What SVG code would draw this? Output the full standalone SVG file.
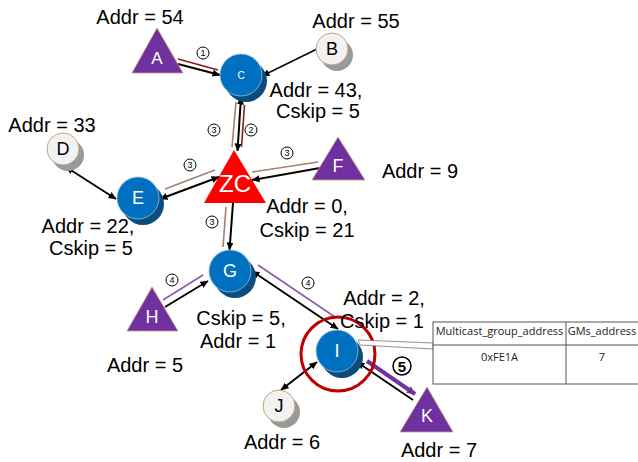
<svg xmlns="http://www.w3.org/2000/svg" width="638" height="462" viewBox="0 0 638 462">
<defs>
<marker id="ah" markerUnits="userSpaceOnUse" markerWidth="8" markerHeight="7" refX="7.5" refY="3.5" orient="auto-start-reverse"><path d="M0,0 L8,3.5 L0,7 z" fill="#000"/></marker>
<marker id="ahp" markerUnits="userSpaceOnUse" markerWidth="9" markerHeight="8" refX="8" refY="4" orient="auto"><path d="M0,0 L9,4 L0,8 z" fill="#7030a0"/></marker>
</defs>
<style>
.t{font-family:"Liberation Sans",Arial,sans-serif;font-size:20px;fill:#000;text-anchor:middle}
.nw{font-family:"Liberation Sans",Arial,sans-serif;font-size:18px;fill:#fff;text-anchor:middle}
.nb{font-family:"Liberation Sans",Arial,sans-serif;font-size:18px;fill:#000;text-anchor:middle}
.blue{fill:#0070c0;stroke:#9dbbd8;stroke-width:0.8}
.bsh{fill:#0b4c7e}
.light{fill:#f2f2f2;stroke:#c6a27c;stroke-width:1}
.lsh{fill:#9a9a9a}
.purple{fill:#7030a0;stroke:#c6a27c;stroke-width:0.8}
.bl{stroke:#000;stroke-width:2;fill:none}
.rd{stroke:#8b1a1a;stroke-width:1.6;fill:none}
.br{stroke:#a57f70;stroke-width:1.6;fill:none}
.pu{stroke:#8a5aa8;stroke-width:1.6;fill:none}
.cn{fill:#fff;stroke:#000;stroke-width:1}
.ct{font-family:"Liberation Sans",Arial,sans-serif;font-size:9px;fill:#000;text-anchor:middle}
.tb{font-family:"Open Sans","Liberation Sans",sans-serif;font-size:11px;fill:#222;text-anchor:middle}
</style>

<g id="connectors">
<line class="rd" x1="178" y1="59" x2="218" y2="70"/>
<line class="bl" x1="178" y1="64" x2="220" y2="75" marker-end="url(#ah)"/>
<line class="bl" x1="317" y1="49" x2="262" y2="76" style="stroke-width:1.4" marker-end="url(#ah)"/>
<line class="br" x1="236" y1="102" x2="232" y2="147"/>
<line class="rd" x1="244.5" y1="105" x2="241.5" y2="147"/>
<line class="bl" x1="241" y1="97" x2="237.5" y2="151" marker-end="url(#ah)" marker-start="url(#ah)"/>
<line class="br" x1="318" y1="162" x2="252" y2="172"/>
<line class="bl" x1="320" y1="168" x2="252" y2="180" marker-end="url(#ah)"/>
<line class="br" x1="215" y1="170" x2="165" y2="189"/>
<line class="bl" x1="219" y1="177" x2="160" y2="199" marker-end="url(#ah)" marker-start="url(#ah)"/>
<line class="bl" x1="116" y1="199" x2="66" y2="167" marker-end="url(#ah)" marker-start="url(#ah)"/>
<line class="br" x1="226" y1="207" x2="223" y2="247"/>
<line class="bl" x1="233" y1="203" x2="229.5" y2="250" marker-end="url(#ah)"/>
<line class="pu" x1="163" y1="300" x2="203" y2="275"/>
<line class="bl" x1="165" y1="307" x2="208" y2="281" marker-end="url(#ah)"/>
<line class="pu" x1="258" y1="265" x2="335" y2="317"/>
<line class="bl" x1="252" y1="271" x2="338" y2="329" marker-end="url(#ah)" marker-start="url(#ah)"/>
<line class="bl" x1="317" y1="362" x2="281" y2="390" marker-end="url(#ah)" marker-start="url(#ah)"/>
<line class="bl" x1="413" y1="400" x2="357" y2="362" marker-end="url(#ah)"/>
<line x1="367" y1="361" x2="415" y2="394" stroke="#7030a0" stroke-width="4" marker-end="url(#ahp)"/>
<g id="seq-labels">
<circle class="cn" cx="203" cy="53" r="6"/><text class="ct" x="203" y="56.3">1</text>
<circle class="cn" cx="214" cy="130" r="6"/><text class="ct" x="214" y="133.3">3</text>
<circle class="cn" cx="251" cy="130" r="6"/><text class="ct" x="251" y="133.3">2</text>
<circle class="cn" cx="190" cy="165" r="6"/><text class="ct" x="190" y="168.3">3</text>
<circle class="cn" cx="287" cy="153" r="6"/><text class="ct" x="287" y="156.3">3</text>
<circle class="cn" cx="212" cy="222" r="6"/><text class="ct" x="212" y="225.3">3</text>
<circle class="cn" cx="172" cy="280" r="6"/><text class="ct" x="172" y="283.3">4</text>
<circle class="cn" cx="308" cy="283" r="6"/><text class="ct" x="308" y="286.3">4</text>
<circle class="cn" cx="402" cy="366" r="9" style="stroke-width:1.5"/><text class="ct" x="402" y="371.5" style="font-size:15px;font-weight:bold">5</text>
</g>
</g>

<g id="ring"><circle cx="338" cy="354" r="37" fill="none" stroke="#c00000" stroke-width="3"/></g>

<g id="node-A">
<polygon class="purple" points="157,28 132,73 183,73"/>
<text class="nw" x="157" y="64" style="font-size:17px">A</text>
<text class="t" x="140" y="24">Addr = 54</text>
</g>
<g id="node-B">
<circle class="lsh" cx="337" cy="55" r="16"/>
<circle class="light" cx="332" cy="49" r="16"/>
<text class="nb" x="332" y="55">B</text>
<text class="t" x="356" y="28">Addr = 55</text>
</g>
<g id="node-C">
<circle class="bsh" cx="246" cy="81" r="21"/>
<circle class="blue" cx="241" cy="75" r="21"/>
<text class="nw" x="241" y="79" style="font-size:10px">C</text>
<text class="t" x="316" y="97">Addr = 43,</text>
<text class="t" x="318" y="118">Cskip = 5</text>
</g>
<g id="node-D">
<circle class="lsh" cx="68" cy="155" r="16"/>
<circle class="light" cx="63" cy="149" r="16"/>
<text class="nb" x="63" y="155">D</text>
<text class="t" x="52" y="132">Addr = 33</text>
</g>
<g id="node-E">
<circle class="bsh" cx="143" cy="204" r="21"/>
<circle class="blue" cx="138" cy="198" r="21"/>
<text class="nw" x="138" y="204">E</text>
<text class="t" x="88" y="233">Addr = 22,</text>
<text class="t" x="91" y="255">Cskip = 5</text>
</g>
<g id="node-ZC">
<polygon points="234,150 204,203 266,203" fill="#ff0000"/>
<text class="nw" x="235" y="192" style="font-size:24px">ZC</text>
<text class="t" x="307" y="213">Addr = 0,</text>
<text class="t" x="307" y="237">Cskip = 21</text>
</g>
<g id="node-F">
<polygon class="purple" points="338,137 312,180 365,180"/>
<text class="nw" x="338" y="172">F</text>
<text class="t" x="420" y="178">Addr = 9</text>
</g>
<g id="node-G">
<circle class="bsh" cx="235" cy="277" r="21"/>
<circle class="blue" cx="230" cy="271" r="21"/>
<text class="nw" x="230" y="277">G</text>
<text class="t" x="241" y="325">Cskip = 5,</text>
<text class="t" x="238" y="348">Addr = 1</text>
</g>
<g id="node-H">
<polygon class="purple" points="152,287 127,331 178,331"/>
<text class="nw" x="152" y="323">H</text>
<text class="t" x="145" y="372">Addr = 5</text>
</g>
<g id="node-I">
<circle class="bsh" cx="342" cy="357" r="21"/>
<circle class="blue" cx="337" cy="351" r="21"/>
<text class="nw" x="337" y="357">I</text>
<text class="t" x="384" y="305">Addr = 2,</text>
<text class="t" x="382" y="328">Cskip = 1</text>
</g>
<g id="node-J">
<circle class="lsh" cx="284" cy="412" r="16"/>
<circle class="light" cx="279" cy="406" r="16"/>
<text class="nb" x="279" y="412">J</text>
<text class="t" x="282" y="449">Addr = 6</text>
</g>
<g id="node-K">
<polygon class="purple" points="427,387 400,432 453,432"/>
<text class="nw" x="427" y="422">K</text>
<text class="t" x="439" y="457">Addr = 7</text>
</g>

<g id="table">
<polygon points="358,340 433,343 433,349 360,345" fill="#fff" stroke="#777" stroke-width="0.8"/>
<rect x="433" y="322" width="210" height="62" fill="#fff" stroke="#555" stroke-width="1"/>
<line x1="433" y1="345" x2="643" y2="345" stroke="#555" stroke-width="1"/>
<line x1="566" y1="322" x2="566" y2="384" stroke="#555" stroke-width="1"/>
<text class="tb" x="499.5" y="335">Multicast_group_address</text>
<text class="tb" x="602" y="335">GMs_address</text>
<text class="tb" x="499.5" y="361">0xFE1A</text>
<text class="tb" x="602" y="361">7</text>
</g>
</svg>
